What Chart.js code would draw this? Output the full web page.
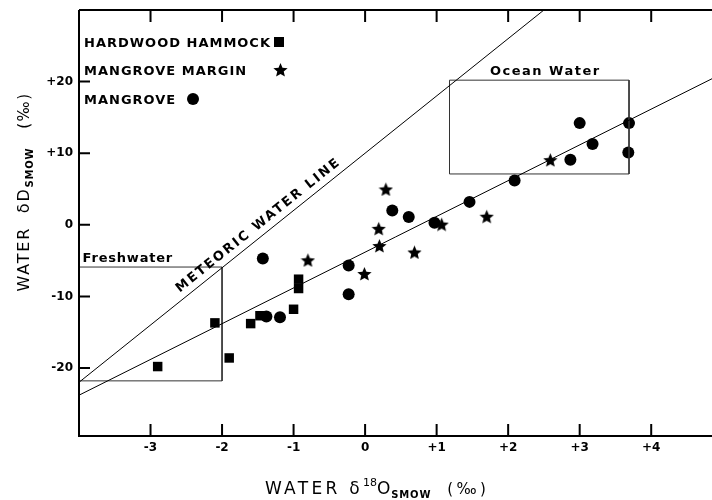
<!DOCTYPE html>
<html>
<head>
<meta charset="utf-8">
<script src="https://cdn.jsdelivr.net/npm/chart.js@4.4.0/dist/chart.umd.min.js"></script>
<style>
  html, body { margin: 0; padding: 0; background: #fff; overflow: hidden; }
  #wrap { width: 712px; height: 500px; }
</style>
</head>
<body>
<div id="wrap"><canvas id="isoChart" width="712" height="500"></canvas></div>
<script>
// axis ticks
const xTicks = [-4, -3, -2, -1, 0, 1, 2, 3, 4];
const xTickLabels = ['', '-3', '-2', '-1', '0', '+1', '+2', '+3', '+4'];
const yTicks = [-20, -10, 0, 10, 20];
const yTickLabels = ['-20', '-10', '0', '+10', '+20'];

// hardwood hammock (squares)
const hammockX = [-2.9, -2.1, -1.9, -1.6, -1.47, -1.0, -0.93, -0.93];
const hammockY = [-19.8, -13.7, -18.6, -13.8, -12.7, -11.8, -7.6, -8.9];

// mangrove margin (stars)
const marginX = [-0.8, 0.29, 0.19, 0.2, -0.01, 0.69, 1.07, 1.7, 2.59];
const marginY = [-4.9, 5.0, -0.5, -2.9, -6.8, -3.8, 0.1, 1.2, 9.1];

// mangrove (circles)
const mangroveX = [-1.43, -1.38, -1.19, -0.23, -0.23, 0.38, 0.61, 0.97, 1.46, 2.09, 2.87, 3.0, 3.18, 3.69, 3.68];
const mangroveY = [-4.7, -12.8, -12.9, -5.7, -9.7, 2.0, 1.1, 0.3, 3.2, 6.2, 9.1, 14.2, 11.3, 14.2, 10.1];

// meteoric water line and the fitted line (end points)
const meteoricX = [-4, 2.5];
const meteoricY = [-22, 30];
const fitX = [-4, 4.85];
const fitY = [-23.8, 20.4];

// freshwater and ocean water boxes
const freshX = [-4, -2, -2, -4];
const freshY = [-5.9, -5.9, -21.8, -21.8];
const oceanX = [1.18, 3.69, 3.69, 1.18, 1.18];
const oceanY = [20.2, 20.2, 7.1, 7.1, 20.2];

const FONT = '"DejaVu Sans", sans-serif';

function toPoints(xs, ys) {
    return xs.map((x, i) => ({ x: x, y: ys[i] }));
}

// filled five point star used as point style
function makeStar(size) {
    const c = document.createElement('canvas');
    c.width = size;
    c.height = size;
    const g = c.getContext('2d');
    const r = size / 2, ri = r * 0.45;
    g.beginPath();
    for (let i = 0; i < 10; i++) {
        const a = -Math.PI / 2 + i * Math.PI / 5;
        const rr = i % 2 ? ri : r;
        g.lineTo(r + rr * Math.cos(a), r + 1 + rr * Math.sin(a));
    }
    g.closePath();
    g.fillStyle = '#000';
    g.fill();
    return c;
}
const starImg = makeStar(15);

// draws text made of pieces with different sizes / offsets
function drawPieces(ctx, x, y, pieces, align) {
    let total = 0;
    pieces.forEach(p => {
        ctx.font = p.weight + ' ' + p.size + 'px ' + FONT;
        ctx.letterSpacing = p.spacing || '0px';
        p.w = ctx.measureText(p.text).width;
        total += p.w;
    });
    let cx = align === 'center' ? x - total / 2 : x;
    pieces.forEach(p => {
        ctx.font = p.weight + ' ' + p.size + 'px ' + FONT;
        ctx.letterSpacing = p.spacing || '0px';
        ctx.fillText(p.text, cx, y + (p.dy || 0));
        cx += p.w;
    });
    ctx.letterSpacing = '0px';
}

const framePlugin = {
    id: 'frame',
    afterDraw(chart) {
        const ctx = chart.ctx;
        const a = chart.chartArea;
        const xs = chart.scales.x, ys = chart.scales.y;
        ctx.save();
        ctx.strokeStyle = '#000';
        ctx.lineWidth = 2;
        ctx.beginPath();
        ctx.moveTo(a.left, a.top);
        ctx.lineTo(a.left, a.bottom);
        ctx.lineTo(a.right, a.bottom);
        ctx.moveTo(a.left, a.top);
        ctx.lineTo(a.right, a.top);
        // inward ticks
        xTicks.forEach(v => {
            if (v === xTicks[0]) return;
            const px = xs.getPixelForValue(v);
            ctx.moveTo(px, a.bottom);
            ctx.lineTo(px, a.bottom - 12);
            ctx.moveTo(px, a.top);
            ctx.lineTo(px, a.top + 12);
        });
        yTicks.forEach(v => {
            const py = ys.getPixelForValue(v);
            ctx.moveTo(a.left, py);
            ctx.lineTo(a.left + 11, py);
        });
        ctx.stroke();

        ctx.fillStyle = '#000';
        ctx.textBaseline = 'alphabetic';

        // legend
        ctx.textAlign = 'left';
        ctx.font = 'bold 13px ' + FONT;
        ctx.letterSpacing = '1px';
        ctx.fillText('HARDWOOD HAMMOCK', 84, 47);
        ctx.fillText('MANGROVE MARGIN', 84, 75);
        ctx.fillText('MANGROVE', 84, 104);
        ctx.letterSpacing = '0px';
        ctx.fillRect(274, 37, 10, 10);
        ctx.drawImage(starImg, 273, 62);
        ctx.beginPath();
        ctx.arc(193, 99, 6, 0, Math.PI * 2);
        ctx.fill();

        // box labels
        ctx.font = 'bold 13px ' + FONT;
        ctx.letterSpacing = '0.8px';
        ctx.textAlign = 'left';
        ctx.fillText('Freshwater', xs.getPixelForValue(-3.95), ys.getPixelForValue(freshY[0]) - 5);
        ctx.letterSpacing = '1.5px';
        ctx.textAlign = 'center';
        ctx.fillText('Ocean Water', xs.getPixelForValue(2.52), ys.getPixelForValue(oceanY[0]) - 5);

        // meteoric water line label along the line
        const p1x = xs.getPixelForValue(meteoricX[0]), p1y = ys.getPixelForValue(meteoricY[0]);
        const p2x = xs.getPixelForValue(meteoricX[1]), p2y = ys.getPixelForValue(meteoricY[1]);
        const ang = Math.atan2(p2y - p1y, p2x - p1x);
        const t = 0.4;
        ctx.save();
        ctx.translate(p1x + (p2x - p1x) * t, p1y + (p2y - p1y) * t);
        ctx.rotate(ang);
        ctx.font = 'bold 13px ' + FONT;
        ctx.letterSpacing = '2.1px';
        ctx.textAlign = 'center';
        ctx.fillText('METEORIC WATER LINE', 0, -7);
        ctx.restore();

        // axis titles
        ctx.textAlign = 'left';
        drawPieces(ctx, 377, 494, [
            { text: 'WATER δ', size: 17, weight: 'normal', spacing: '3.3px' },
            { text: '18', size: 11, weight: 'normal', dy: -8 },
            { text: 'O', size: 17, weight: 'normal', spacing: '1px' },
            { text: 'SMOW', size: 10, weight: 'bold', dy: 4, spacing: '0.8px' },
            { text: '  (‰)', size: 15, weight: 'normal', spacing: '3.3px' }
        ], 'center');

        ctx.save();
        ctx.translate(29, 192);
        ctx.rotate(-Math.PI / 2);
        drawPieces(ctx, 0, 0, [
            { text: 'WATER  δD', size: 16, weight: 'normal', spacing: '1.8px' },
            { text: 'SMOW', size: 10, weight: 'bold', dy: 4, spacing: '0.8px' },
            { text: '   (‰)', size: 15, weight: 'normal', spacing: '1.5px' }
        ], 'center');
        ctx.restore();

        ctx.restore();
    }
};

const lineStyle = {
    type: 'line',
    showLine: true,
    borderColor: '#000',
    borderWidth: 1,
    pointRadius: 0,
    fill: false,
    tension: 0
};

new Chart(document.getElementById('isoChart'), {
    type: 'scatter',
    data: {
        datasets: [
            Object.assign({ label: 'Meteoric water line', data: toPoints(meteoricX, meteoricY) }, lineStyle),
            Object.assign({ label: 'Fit', data: toPoints(fitX, fitY) }, lineStyle),
            Object.assign({ label: 'Freshwater', data: toPoints(freshX, freshY) }, lineStyle, { borderColor: '#333' }),
            Object.assign({ label: 'Ocean Water', data: toPoints(oceanX, oceanY) }, lineStyle, { borderColor: '#333' }),
            {
                label: 'HARDWOOD HAMMOCK',
                data: toPoints(hammockX, hammockY),
                pointStyle: 'rect',
                pointRadius: 6.7,
                backgroundColor: '#000',
                borderWidth: 0
            },
            {
                label: 'MANGROVE MARGIN',
                data: toPoints(marginX, marginY),
                pointStyle: starImg,
                pointRadius: 7
            },
            {
                label: 'MANGROVE',
                data: toPoints(mangroveX, mangroveY),
                pointStyle: 'circle',
                pointRadius: 6,
                backgroundColor: '#000',
                borderWidth: 0
            }
        ]
    },
    options: {
        responsive: false,
        animation: false,
        devicePixelRatio: 1,
        layout: { autoPadding: false, padding: { top: 10, right: 0, left: 0, bottom: 0 } },
        plugins: {
            legend: { display: false },
            tooltip: { enabled: false }
        },
        scales: {
            x: {
                type: 'linear',
                min: -4,
                max: 4.85,
                grid: { display: false, drawTicks: false },
                border: { display: false },
                afterBuildTicks: scale => { scale.ticks = xTicks.map(v => ({ value: v })); },
                afterFit: scale => {
                    scale.height = 64;
                    scale.paddingLeft = 0;
                    scale.paddingRight = 0;
                },
                ticks: {
                    color: '#000',
                    padding: 5,
                    maxRotation: 0,
                    autoSkip: false,
                    font: { family: FONT, size: 12, weight: 'bold' },
                    callback: v => xTickLabels[xTicks.indexOf(v)]
                }
            },
            y: {
                type: 'linear',
                min: -29.5,
                max: 30,
                grid: { display: false, drawTicks: false },
                border: { display: false },
                afterBuildTicks: scale => { scale.ticks = yTicks.map(v => ({ value: v })); },
                afterFit: scale => {
                    scale.width = 79;
                    scale.paddingTop = 0;
                    scale.paddingBottom = 0;
                },
                ticks: {
                    color: '#000',
                    padding: 6,
                    autoSkip: false,
                    font: { family: FONT, size: 12, weight: 'bold' },
                    callback: v => yTickLabels[yTicks.indexOf(v)]
                }
            }
        }
    },
    plugins: [framePlugin]
});
</script>
</body>
</html>
